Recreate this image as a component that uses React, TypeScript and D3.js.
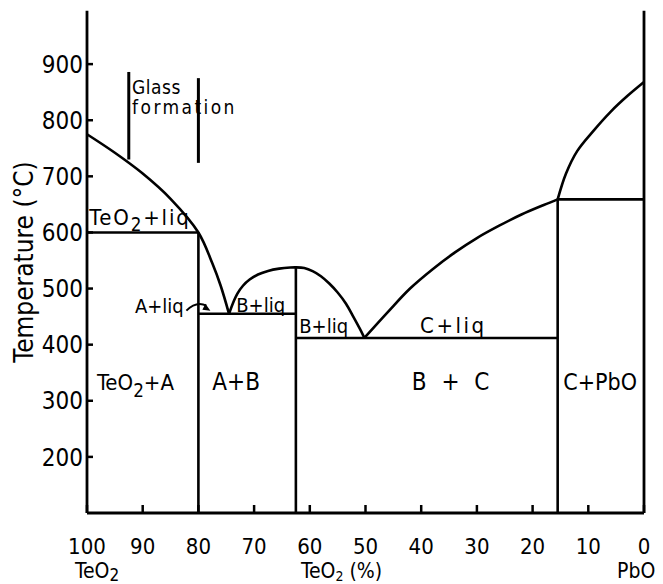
import * as d3 from "d3";

// composition axis: mol % TeO2, temperature in °C
const compTicks = [100, 90, 80, 70, 60, 50, 40, 30, 20, 10, 0];
const tempTicks = [200, 300, 400, 500, 600, 700, 800, 900];

// liquidus branches [TeO2 %, T]
const liquidusTeO2: [number, number][] = [
  [100, 775], [95, 742], [90, 705], [85, 660], [80, 600], [77.5, 545], [76, 505], [74.5, 455],
];
const liquidusB: [number, number][] = [
  [74.5, 455], [73.8, 474], [73, 491], [72, 505], [70.8, 516], [69.3, 525], [67.5, 531.5],
  [65.5, 535.5], [63.5, 537.5], [62.5, 537.8], [61, 536.5], [59.5, 531], [58, 522], [56.5, 509],
  [55, 493], [53.5, 473], [52.2, 450], [51, 428], [50.2, 412],
];
const liquidusC: [number, number][] = [
  [50.2, 412], [46, 458], [42, 500], [38, 534], [34, 564], [30, 590], [26, 612], [22, 632],
  [18, 649], [15.5, 659],
];
const liquidusPbO: [number, number][] = [
  [15.5, 659], [14, 705], [12, 745], [9, 782], [6, 815], [3, 843], [0, 868],
];

// invariant (horizontal) lines
const invariants = [
  { from: 100, to: 80, t: 600 },
  { from: 80, to: 62.5, t: 455 },
  { from: 62.5, to: 15.5, t: 412 },
  { from: 15.5, to: 0, t: 659 },
];

// compounds A, B, C (vertical lines)
const compounds = [
  { name: "A", x: 80, top: 600 },
  { name: "B", x: 62.5, top: 537.8 },
  { name: "C", x: 15.5, top: 659 },
];

const glassLimits = [92.5, 80];
const glassTemps = [[730, 886], [724, 875]];

const W = 663;
const H = 584;

export default function App() {
  const x = d3.scaleLinear().domain([100, 0]).range([87, 644]);
  const y = d3.scaleLinear().domain([100, 1000]).range([513, 8]);
  const line = d3
    .line<[number, number]>()
    .x((d) => x(d[0]))
    .y((d) => y(d[1]))
    .curve(d3.curveCatmullRom.alpha(0.5));

  const font = "'Liberation Sans Narrow', 'DejaVu Sans Condensed', 'Liberation Sans', sans-serif";
  const stroke = "#000";
  const sw = 2.6;

  const label = (
    key: string,
    v: number,
    t: number,
    parts: [string, boolean][],
    size = 21,
    spacing = 0
  ) => (
    <text key={key} x={x(v)} y={y(t)} fontSize={size} letterSpacing={spacing}>
      {parts.map(([s, sub], i) => (
        <tspan
          key={i}
          dy={sub ? size * 0.3 : i > 0 && parts[i - 1][1] ? -size * 0.3 : 0}
          fontSize={sub ? size * 0.85 : size}
        >
          {s}
        </tspan>
      ))}
    </text>
  );

  const ax = x(80);
  const ay = y(466);

  return (
    <div style={{ position: "absolute", left: 0, top: 0 }}>
      <svg width={W} height={H} style={{ display: "block", background: "#fff" }} fontFamily={font}>
        {/* axes */}
        <g stroke={stroke} strokeWidth={2.8} fill="none">
          <line x1={x(100)} x2={x(100)} y1={y(100)} y2={y(995)} />
          <line x1={x(0)} x2={x(0)} y1={y(100)} y2={y(995)} />
          <line x1={x(100)} x2={x(0)} y1={y(100)} y2={y(100)} />
        </g>
        {/* y ticks */}
        <g>
          {tempTicks.map((t) => (
            <g key={t}>
              <line x1={x(100)} x2={x(100) + 6} y1={y(t)} y2={y(t)} stroke={stroke} strokeWidth={2.5} />
              <text x={x(100) - 4} y={y(t)} dy="0.36em" textAnchor="end" fontSize={24}>
                {t}
              </text>
            </g>
          ))}
        </g>
        {/* x ticks */}
        <g>
          {compTicks.map((c) => (
            <g key={c}>
              <line x1={x(c)} x2={x(c)} y1={y(100)} y2={y(100) - 8} stroke={stroke} strokeWidth={2.5} />
              <text x={x(c)} y={y(100) + 41} textAnchor="middle" fontSize={22}>
                {c}
              </text>
            </g>
          ))}
        </g>
        {/* phase boundaries */}
        <g stroke={stroke} strokeWidth={sw} fill="none">
          {[liquidusTeO2, liquidusB, liquidusC, liquidusPbO].map((d, i) => (
            <path key={i} d={line(d) ?? ""} />
          ))}
          {invariants.map((d, i) => (
            <line key={i} x1={x(d.from)} x2={x(d.to)} y1={y(d.t)} y2={y(d.t)} />
          ))}
          {compounds.map((d) => (
            <line key={d.name} x1={x(d.x)} x2={x(d.x)} y1={y(100)} y2={y(d.top)} />
          ))}
          {glassLimits.map((g, i) => (
            <line key={i} x1={x(g)} x2={x(g)} y1={y(glassTemps[i][0])} y2={y(glassTemps[i][1])} strokeWidth={3} />
          ))}
          {/* arrow from A+liq label */}
          <path d={`M${ax - 12},${ay + 3} Q${ax - 2},${ay - 7} ${ax + 8},${ay - 2}`} strokeWidth={2} />
        </g>
        <path d={`M${ax + 12},${ay + 3} l-8,-1 l3,-6 z`} fill={stroke} />
        {/* region labels */}
        <g fill="#000">
          {label("gl1", 91.9, 847, [["Glass", false]], 19, 0.5)}
          {label("gl2", 91.9, 811, [["formation", false]], 19, 2.4)}
          {label("tl", 99.6, 614, [["TeO", false], ["2", true], ["+liq", false]], 22, 1.8)}
          {label("al", 91.4, 456, [["A+liq", false]], 20)}
          {label("bl1", 73.2, 459, [["B+liq", false]], 20)}
          {label("bl2", 61.9, 421, [["B+liq", false]], 20)}
          {label("cl", 40.2, 421, [["C+liq", false]], 22, 2.5)}
          {label("ta", 98.2, 319, [["TeO", false], ["2", true], ["+A", false]], 22)}
          {label("ab", 77.5, 319, [["A+B", false]], 24)}
          {label("bc", 41.7, 319, [["B + C", false]], 24, 4)}
          {label("cp", 14.5, 319, [["C+PbO", false]], 23)}
        </g>
        {/* bottom labels */}
        <g fontSize={21}>
          <text x={75} y={578}>
            TeO<tspan dy={2.5} fontSize={17}>2</tspan>
          </text>
          <text x={301} y={578}>
            TeO<tspan dy={2.5} fontSize={14}>2</tspan>
            <tspan dy={-2.5}> (%)</tspan>
          </text>
          <text x={617} y={578}>PbO</text>
        </g>
        <text transform="translate(33,262) rotate(-90)" textAnchor="middle" fontSize={26}>
          Temperature (°C)
        </text>
      </svg>
    </div>
  );
}
